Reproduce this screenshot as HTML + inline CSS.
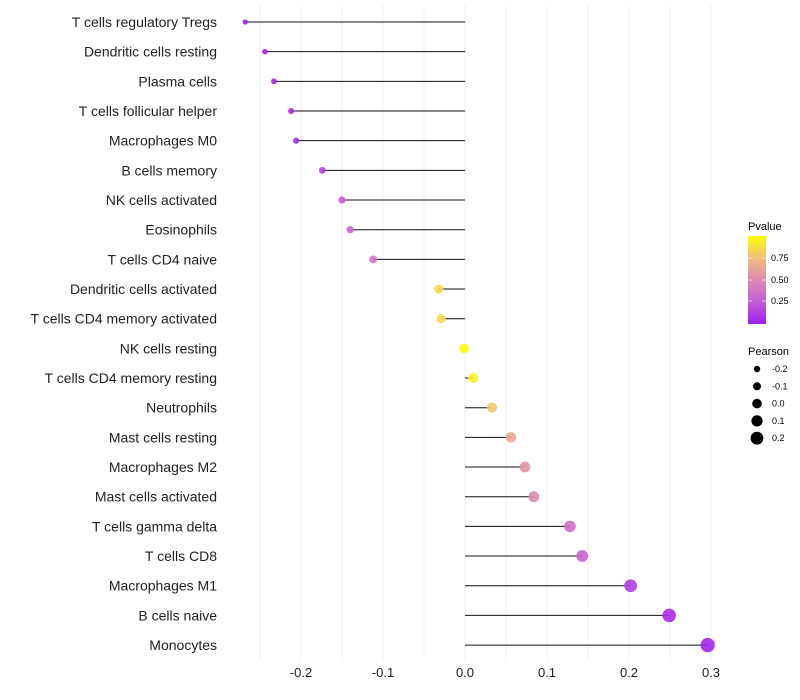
<!DOCTYPE html>
<html><head><meta charset="utf-8"><style>
html,body{margin:0;padding:0;background:#fff;}
svg{display:block;font-family:"Liberation Sans",sans-serif;}
</style></head><body>
<svg id="chart" width="800" height="700">
<defs><linearGradient id="pg" x1="0" y1="1" x2="0" y2="0">
<stop offset="0" stop-color="#A020F0"/><stop offset="0.25" stop-color="#C45CD6"/><stop offset="0.5" stop-color="#DC8CB0"/><stop offset="0.75" stop-color="#F0BE80"/><stop offset="1" stop-color="#FFFF00"/></linearGradient></defs>
<g id="grid"></g><g id="marks"></g><g id="labels"></g>
<g>
<text x="748" y="230" font-size="11">Pvalue</text>
<rect x="748" y="236" width="18" height="88" fill="url(#pg)"/>
<g stroke="#fff" stroke-opacity="0.6"><line x1="748" x2="752" y1="258" y2="258"/><line x1="762" x2="766" y1="258" y2="258"/><line x1="748" x2="752" y1="280" y2="280"/><line x1="762" x2="766" y1="280" y2="280"/><line x1="748" x2="752" y1="301" y2="301"/><line x1="762" x2="766" y1="301" y2="301"/></g>
<text x="771" y="261" font-size="9">0.75</text><text x="771" y="283" font-size="9">0.50</text><text x="771" y="304" font-size="9">0.25</text>
</g>
<g id="sizeleg">
<text x="748" y="355" font-size="11">Pearson</text>
</g>
</svg>
<script>
const categories=["T cells regulatory  Tregs","Dendritic cells resting","Plasma cells","T cells follicular helper","Macrophages M0","B cells memory","NK cells activated","Eosinophils","T cells CD4 naive","Dendritic cells activated","T cells CD4 memory activated","NK cells resting","T cells CD4 memory resting","Neutrophils","Mast cells resting","Macrophages M2","Mast cells activated","T cells gamma delta","T cells CD8","Macrophages M1","B cells naive","Monocytes"];
const pearson=[-0.268,-0.244,-0.233,-0.212,-0.206,-0.174,-0.150,-0.140,-0.112,-0.032,-0.029,-0.001,0.010,0.033,0.056,0.073,0.084,0.128,0.143,0.202,0.249,0.296];
const pvalue=[0.0,0.02,0.03,0.05,0.07,0.12,0.25,0.3,0.4,0.85,0.85,0.99,0.95,0.8,0.65,0.55,0.5,0.35,0.3,0.12,0.05,0.02];
const xTicks=[-0.2,-0.1,0.0,0.1,0.2,0.3];
const xTickLabels=["-0.2","-0.1","0.0","0.1","0.2","0.3"];
const sizeLegend=[-0.2,-0.1,0.0,0.1,0.2];
const NS="http://www.w3.org/2000/svg";
const xs=v=>465+v*820;
const ys=i=>22+i*29.67;
const rs=v=>Math.max(1.5,4.8+8*v);
const stops=[[0,[160,32,240]],[0.25,[196,92,214]],[0.5,[220,140,176]],[0.75,[240,190,128]],[1,[255,255,0]]];
function col(p){for(let k=1;k<stops.length;k++){if(p<=stops[k][0]){const a=stops[k-1],b=stops[k],t=(p-a[0])/(b[0]-a[0]);return "rgb("+a[1].map((c,j)=>Math.round(c+(b[1][j]-c)*t)).join(",")+")";}}return "rgb(255,255,0)";}
function mk(t,at,parent){const e=document.createElementNS(NS,t);for(const k in at)e.setAttribute(k,at[k]);parent.appendChild(e);return e;}
const grid=document.getElementById('grid'),marks=document.getElementById('marks'),labels=document.getElementById('labels');
for(let v=-0.25;v<=0.301;v+=0.05){const l=mk('line',{x1:xs(v),x2:xs(v),y1:5,y2:660,stroke:'#f0f0f0','stroke-width':1},grid);

}
xTicks.forEach((v,i)=>{const t=mk('text',{x:xs(v),y:677,'font-size':13,'text-anchor':'middle',fill:'#222'},labels);t.textContent=xTickLabels[i];

});
categories.forEach((c,i)=>{const y=ys(i);
const t=mk('text',{x:217,y:y+5,'font-size':14,'text-anchor':'end',fill:'#222'},labels);t.textContent=c;


const l=mk('line',{x1:xs(0),x2:xs(pearson[i]),y1:y,y2:y,stroke:'#111','stroke-width':1},marks);


const d=mk('circle',{cx:xs(pearson[i]),cy:y,r:rs(pearson[i]),fill:col(pvalue[i]),'fill-opacity':0.9},marks);

});
const sl=document.getElementById('sizeleg');
sizeLegend.forEach((v,i)=>{const y=369+i*17.3;
const c=mk('circle',{cx:757,cy:y,r:rs(v),fill:'#000'},sl);


const t=mk('text',{x:772,y:y+3,'font-size':9},sl);t.textContent=v.toFixed(1);

});
</script>
</body></html>
